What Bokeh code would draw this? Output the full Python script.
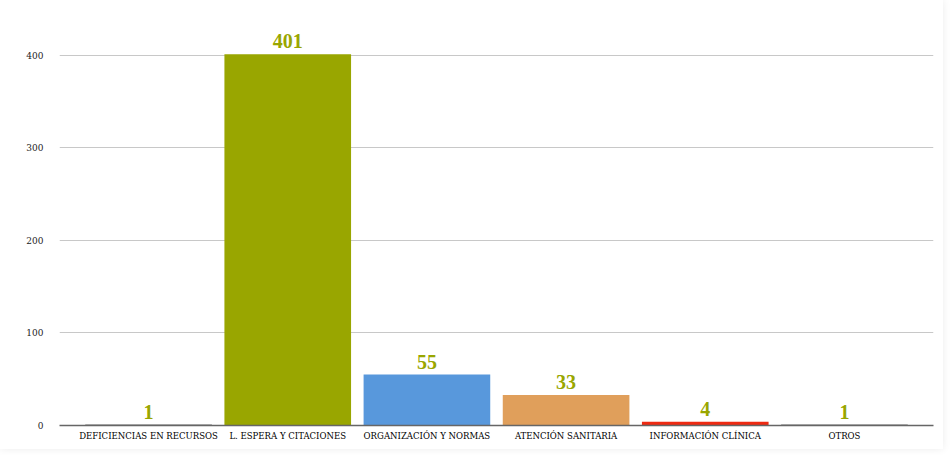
from bokeh.plotting import figure
from bokeh.models import ColumnDataSource, FactorRange, FixedTicker, Range1d
from bokeh.core.properties import value
from bokeh.embed import file_html
from bokeh.resources import INLINE

categories = ["DEFICIENCIAS EN RECURSOS", "L. ESPERA Y CITACIONES", "ORGANIZACIÓN Y NORMAS",
              "ATENCIÓN SANITARIA", "INFORMACIÓN CLÍNICA", "OTROS"]
counts = [1, 401, 55, 33, 4, 1]
bar_colors = ["#707070", "#99a600", "#5898dc", "#e09f5b", "#ee2a12", "#707070"]
y_ticks = [0, 100, 200, 300, 400]

src = ColumnDataSource(dict(cat=categories, val=counts, color=bar_colors,
                            lbl=[str(v) for v in counts]))

p = figure(width=943, height=449, output_backend="svg", toolbar_location=None,
           x_range=FactorRange(factors=categories, range_padding=0.14,
                               range_padding_units="absolute"),
           y_range=Range1d(0, 430))
p.min_border_left = 59
p.min_border_right = 10
p.min_border_top = 27
p.min_border_bottom = 24
p.outline_line_color = None
p.background_fill_color = "white"
p.border_fill_color = "white"
p.styles = {"box-shadow": "0 0 8px rgba(0,0,0,0.08)"}

p.vbar(x="cat", top="val", width=0.91, fill_color="color", line_color=None, source=src)
p.text(x="cat", y="val", text="lbl", source=src, text_align="center",
       text_baseline="bottom", y_offset=-6, text_color="#99a600",
       text_font=value("Liberation Serif"), text_font_style="bold", text_font_size="20px")

p.xgrid.grid_line_color = None
p.ygrid.ticker = FixedTicker(ticks=y_ticks)
p.ygrid.grid_line_color = "#c8c8c8"
p.ygrid.grid_line_width = 1

p.yaxis.ticker = FixedTicker(ticks=y_ticks)
p.yaxis.axis_line_color = None
p.yaxis.major_tick_line_color = None
p.yaxis.minor_tick_line_color = None
p.yaxis.major_label_standoff = 10
p.yaxis.major_label_text_font = "DejaVu Serif"
p.yaxis.major_label_text_font_size = "9px"
p.yaxis.major_label_text_color = "#222222"

p.xaxis.axis_line_color = "#666666"
p.xaxis.axis_line_width = 1.5
p.xaxis.major_tick_line_color = None
p.xaxis.minor_tick_line_color = None
p.xaxis.major_tick_out = 0
p.xaxis.major_label_standoff = 4
p.xaxis.major_label_text_font = "DejaVu Serif Condensed"
p.xaxis.major_label_text_font_size = "9.5px"
p.xaxis.major_label_text_color = "#000000"

open("out.html", "w").write(file_html(p, INLINE))
